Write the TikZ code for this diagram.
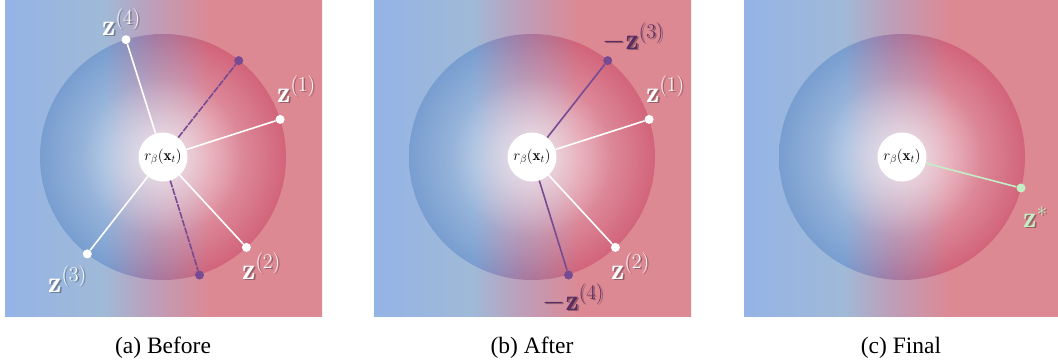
\RequirePackage{fix-cm}
\documentclass[tikz,border=0pt]{standalone}
\usepackage{fontspec}
\newfontfamily\capfont{Liberation Serif}
\usetikzlibrary{fadings}
\definecolor{bgA}{HTML}{94B4E6}
\definecolor{bgB}{HTML}{A0B9D7}
\definecolor{bgC}{HTML}{BE9EB9}
\definecolor{bgD}{HTML}{DC8994}
\definecolor{spA}{HTML}{789ED0}
\definecolor{spB}{HTML}{A47AA2}
\definecolor{spC}{HTML}{D2647A}
\definecolor{purp}{HTML}{774B92}
\definecolor{purptext}{HTML}{5A2D62}
\definecolor{mint}{HTML}{C4EFC4}
% background: local x 0..317 mapped to 25bp..75bp
\pgfdeclarehorizontalshading{bgshade}{100bp}{color(0bp)=(bgA); color(25bp)=(bgA);
  color(40.8bp)=(bgB); color(48.3bp)=(bgC); color(57.3bp)=(bgD); color(100bp)=(bgD)}
% sphere: local x 35..281 mapped to 25bp..75bp
\pgfdeclarehorizontalshading{sphereshade}{100bp}{color(0bp)=(spA); color(25bp)=(spA);
  color(38.2bp)=(spA); color(48bp)=(spB); color(59.5bp)=(spC); color(100bp)=(spC)}
\tikzfading[name=glow, inner color=transparent!35, outer color=transparent!100]
\tikzfading[name=glowcore, inner color=transparent!55, outer color=transparent!100]
\newcommand\paintpanel[1]{%
  \begin{scope}[xshift=#1pt]
    \shade[shading=bgshade] (0,0) rectangle (317,316.5);
    \shade[shading=sphereshade] (158,157) circle (123);
    \fill[white, path fading=glow] (158,157) circle (123);
    \fill[white, path fading=glowcore] (158,157) circle (80);
  \end{scope}}
\newcommand\shlabel[4]{%
  \node[lbl, text=black, opacity=.3, xshift=1.6pt, yshift=-1.8pt] at (#2) {#4};
  \node[lbl, text=#3] (#1) at (#2) {#4};}
\tikzset{
  hub/.style={circle, fill=white, minimum size=49pt, inner sep=0pt,
    font=\fontsize{15}{17}\selectfont},
  dot/.style={circle, inner sep=0pt, minimum size=9pt, fill=#1},
  ray/.style={line width=1.6pt, draw=#1},
  lbl/.style={anchor=base west, inner sep=0pt, font=\fontsize{30}{32}\selectfont},
  caption/.style={anchor=base, inner sep=0pt, font=\capfont\fontsize{23.5}{26}\selectfont}
}
\begin{document}
\begin{tikzpicture}[x=1pt, y=-1pt]
\useasboundingbox (0,0) rectangle (1058,362);
\fill[white] (0,0) rectangle (1058,362);
\begin{scope}
\clip (0,0) rectangle (1058,362);
\paintpanel{5}
\paintpanel{374}
\paintpanel{744}
\end{scope}

% ---------- panel (a)
\node[hub] (hA) at (163,157) {$r_\beta(\mathbf{x}_t)$};
\node[dot=white] (a1) at (280.1,119.4) {};
\node[dot=white] (a2) at (246.4,247.4) {};
\node[dot=white] (a3) at (87.3,253.9) {};
\node[dot=white] (a4) at (126,39.7) {};
\node[dot=purp] (an3) at (238.7,60.6) {};
\node[dot=purp] (an4) at (199.5,275) {};
\draw[ray=white] (hA) -- (a1);
\draw[ray=white] (hA) -- (a2);
\draw[ray=white] (hA) -- (a3);
\draw[ray=white] (hA) -- (a4);
\draw[ray=purp, dash pattern=on 7pt off 1.2pt] (hA) -- (an3);
\draw[ray=purp, dash pattern=on 7pt off 1.2pt] (hA) -- (an4);
\shlabel{la4}{102,35}{white}{$\mathbf{z}^{(4)}$}
\shlabel{la1}{277,102}{white}{$\mathbf{z}^{(1)}$}
\shlabel{la2}{242,279}{white}{$\mathbf{z}^{(2)}$}
\shlabel{la3}{48,292}{white}{$\mathbf{z}^{(3)}$}

% ---------- panel (b)
\node[hub] (hB) at (532,157) {$r_\beta(\mathbf{x}_t)$};
\node[dot=white] (b1) at (649.1,119.4) {};
\node[dot=white] (b2) at (615.4,247.4) {};
\node[dot=purp] (bn3) at (607.7,60.6) {};
\node[dot=purp] (bn4) at (568.5,275) {};
\draw[ray=white] (hB) -- (b1);
\draw[ray=white] (hB) -- (b2);
\draw[ray=purp] (hB) -- (bn3);
\draw[ray=purp] (hB) -- (bn4);
\shlabel{lb3}{602,49}{purptext}{$-\mathbf{z}^{(3)}$}
\shlabel{lb1}{646,102}{white}{$\mathbf{z}^{(1)}$}
\shlabel{lb2}{611,279}{white}{$\mathbf{z}^{(2)}$}
\shlabel{lb4}{542,310}{purptext}{$-\mathbf{z}^{(4)}$}

% ---------- panel (c)
\node[hub] (hC) at (902,157) {$r_\beta(\mathbf{x}_t)$};
\node[dot=mint] (cs) at (1021,188) {};
\draw[ray=mint] (hC) -- (cs);
\shlabel{lcs}{1023,227}{mint}{$\mathbf{z}^{*}$}

% ---------- captions
\node[caption] (capA) at (163,353) {(a) Before};
\node[caption] (capB) at (532,353) {(b) After};
\node[caption] (capC) at (901,353) {(c) Final};
\end{tikzpicture}
\end{document}
